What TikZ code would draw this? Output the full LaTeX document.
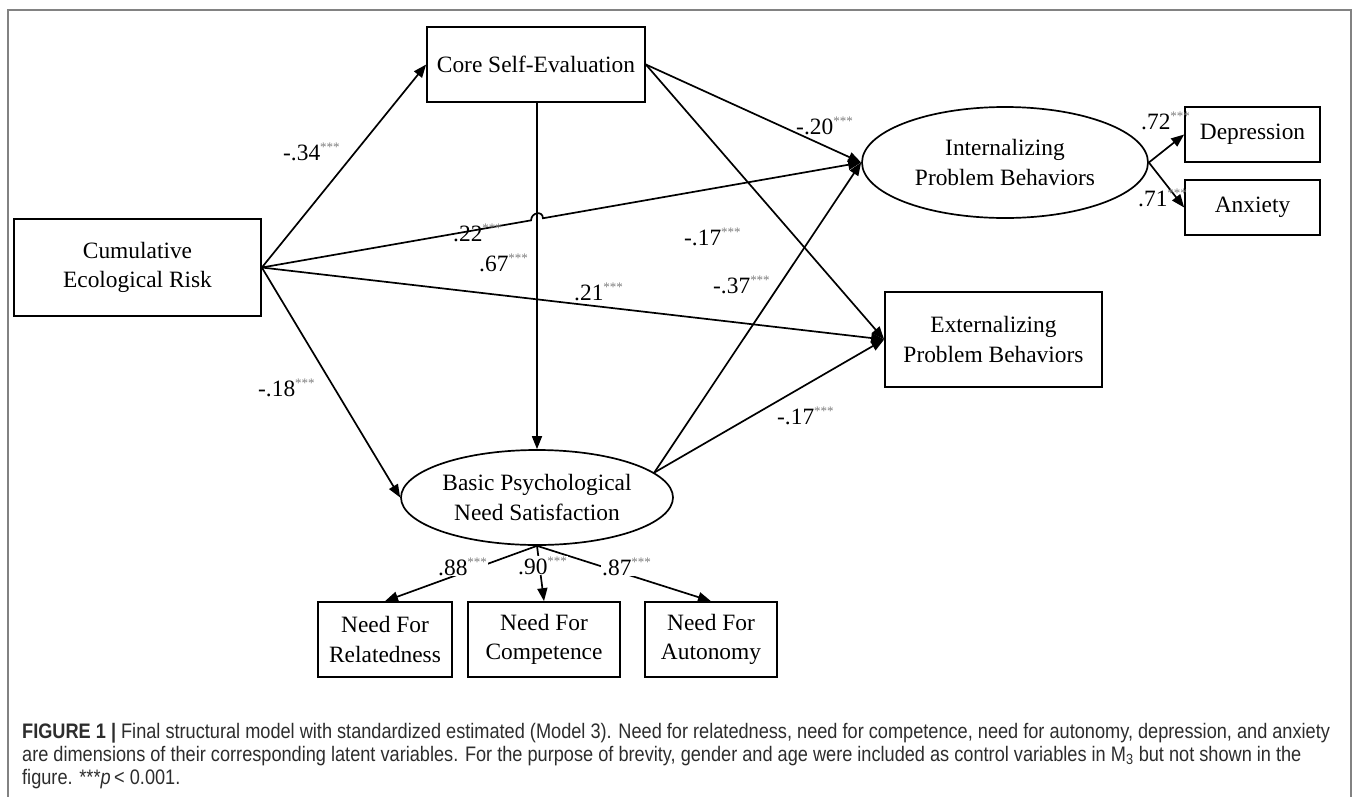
\documentclass[tikz,border=0pt]{standalone}
\usepackage{fontspec}
\setmainfont{Liberation Serif}
\newfontfamily\capfont[FakeStretch=0.865]{Liberation Sans}
\usetikzlibrary{arrows.meta,calc,shapes.geometric}
\definecolor{stargray}{RGB}{125,125,125}
\definecolor{framegray}{RGB}{130,130,130}
\definecolor{captext}{RGB}{45,45,45}
\newcommand{\st}{\raisebox{8.5pt}{\fontsize{13}{13}\selectfont\color{stargray}***}}
\tikzset{
  obs/.style={draw, line width=1.7pt, rectangle, align=center, inner sep=0pt,
    font=\fontsize{23.4}{29.5}\selectfont},
  lat/.style={draw, line width=1.7pt, ellipse, align=center, inner sep=0pt,
    font=\fontsize{23.4}{29.5}\selectfont},
  pth/.style={line width=1.7pt, -{Triangle[length=13pt,width=10pt]}},
  coef/.style={font=\fontsize{23.4}{28}\selectfont, inner sep=1pt, anchor=base west},
  coefw/.style={coef, fill=white},
  captxt/.style={font=\capfont\fontsize{21}{23}\selectfont, text=captext, anchor=base west, inner sep=0pt}
}
\begin{document}
\begin{tikzpicture}[x=1pt,y=-1pt]
\useasboundingbox (0,0) rectangle (1358,796);
\draw[framegray, line width=2pt] (8,800) -- (8,10) -- (1351,10) -- (1351,800);

% nodes
\node[obs, minimum width=218pt, minimum height=75pt] (cse) at (536,64.5) {Core Self-Evaluation};
\node[obs, minimum width=247pt, minimum height=97pt] (cer) at (137.5,267.5) {Cumulative\\Ecological Risk};
\node[lat, minimum width=286pt, minimum height=111pt] (int) at (1005,162.5) {Internalizing\\Problem Behaviors};
\node[obs, minimum width=135pt, minimum height=55pt] (dep) at (1252.5,134.5) {Depression};
\node[obs, minimum width=135pt, minimum height=55pt] (anx) at (1252.5,207.5) {Anxiety};
\node[obs, minimum width=217pt, minimum height=95pt] (ext) at (993.5,339.5) {Externalizing\\Problem Behaviors};
\node[lat, minimum width=272pt, minimum height=95pt] (bpn) at (537,497.5) {Basic Psychological\\Need Satisfaction};
\node[obs, minimum width=134pt, minimum height=75pt] (rel) at (385,639.5) {Need For\\Relatedness};
\node[obs, minimum width=152pt, minimum height=75pt] (com) at (544,639.5) {Need For\\Competence};
\node[obs, minimum width=132pt, minimum height=75pt] (aut) at (711,639.5) {Need For\\Autonomy};

% anchor points
\coordinate (cerR) at (cer.east);
\coordinate (intL) at (int.west);
\coordinate (extL) at (ext.west);
\coordinate (cseT) at (cse.south -| bpn.north);
\coordinate (bpnR) at (bpn.12);

% hop crossing
\coordinate (hop) at (intersection of cerR--intL and cseT--bpn.north);
\coordinate (h1) at ($(hop)!6pt!(cerR)$);
\coordinate (h2) at ($(hop)!6pt!(intL)$);

% structural paths
\draw[pth] (cerR) -- (cse.west);
\draw[pth] (cerR) -- (bpn.west);
\draw[pth] (cerR) -- (h1) .. controls ($(h1)+(0,-8)$) and ($(h2)+(0,-8)$) .. (h2) -- (intL);
\draw[pth] (cerR) -- (extL);
\draw[pth] (cseT) -- (bpn.north);
\draw[pth] (cse.east) -- (intL);
\draw[pth] (cse.east) -- (extL);
\draw[pth] (bpnR) -- (intL);
\draw[pth] (bpnR) -- (extL);
\draw[pth] (int.east) -- (dep.west);
\draw[pth] (int.east) -- (anx.west);
\draw[pth] (bpn.south) -- (rel.north);
\draw[pth] (bpn.south) -- (com.north);
\draw[pth] (bpn.south) -- (aut.north);

% coefficients
\node[coef] (c1) at (282,160) {-.34\st};
\node[coef] (c2) at (452,241) {.22\st};
\node[coef] (c3) at (478,271) {.67\st};
\node[coef] (c4) at (573,300) {.21\st};
\node[coef] (c5) at (257,396) {-.18\st};
\node[coef] (c6) at (795,134) {-.20\st};
\node[coef] (c7) at (683,245) {-.17\st};
\node[coef] (c8) at (712,293) {-.37\st};
\node[coef] (c9) at (776,424) {-.17\st};
\node[coef] (c10) at (1140,129) {.72\st};
\node[coef] (c11) at (1137,206) {.71\st};
\node[coefw] (c12) at (437,575) {.88\st};
\node[coefw] (c13) at (517,574) {.90\st};
\node[coefw] (c14) at (601,575) {.87\st};

% caption
\node[captxt] (l1) at (22,738) {\textbf{FIGURE 1 |} Final structural model with standardized estimated (Model 3). Need for relatedness, need for competence, need for autonomy, depression, and anxiety};
\node[captxt] (l2) at (22,761) {are dimensions of their corresponding latent variables. For the purpose of brevity, gender and age were included as control variables in M\textsubscript{3} but not shown in the};
\node[captxt] (l3) at (22,784) {figure. ***\textit{p}\,{\textless} 0.001.};
\end{tikzpicture}
\end{document}
